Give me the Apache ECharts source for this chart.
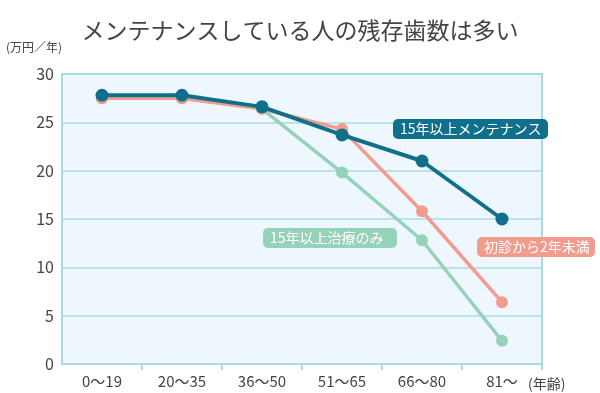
<!DOCTYPE html>
<html><head><meta charset="utf-8">
<script src="https://cdn.jsdelivr.net/npm/echarts@6/dist/echarts.min.js"></script>
<style>html,body{margin:0;padding:0;background:#fff}#c{width:600px;height:393px}</style>
</head><body><div id="c"></div>
<script>
const categories = ['0〜19','20〜35','36〜50','51〜65','66〜80','81〜'];
const maintenance = [27.8, 27.8, 26.6, 23.7, 21.0, 15.0];
const firstVisit = [27.5, 27.5, 26.4, 24.3, 15.8, 6.4];
const treatmentOnly = [27.5, 27.5, 26.4, 19.8, 12.8, 2.4];
const yTicks = [0, 5, 10, 15, 20, 25, 30];
const seriesNames = ['15年以上メンテナンス', '初診から2年未満', '15年以上治療のみ'];

const FONT = '"Noto Sans CJK JP", "Noto Sans", sans-serif';
const chart = echarts.init(document.getElementById('c'));
const lineC = '#a9dbe4';
function box(text, x, y, w, color) {
  return {
    type: 'text', left: x, top: y, z: 100,
    style: {
      text: text, fill: '#fff', font: '14px ' + FONT,
      backgroundColor: color, padding: [3, 7, 3, 7], borderRadius: 5,
      width: w, align: 'center'
    }
  };
}
chart.setOption({
  animation: false,
  textStyle: { fontFamily: FONT },
  title: {
    text: 'メンテナンスしている人の残存歯数は多い', left: 'center', top: 14,
    textStyle: { fontSize: 23, fontWeight: 'normal', color: '#444', fontFamily: FONT }
  },
  grid: {
    left: 62, right: 58, top: 74, bottom: 29, show: true,
    outerBoundsMode: 'none', containLabel: false,
    backgroundColor: '#eef7fd', borderColor: lineC, borderWidth: 2
  },
  xAxis: {
    type: 'category', data: categories, boundaryGap: true,
    axisLine: { lineStyle: { color: lineC, width: 2 } },
    axisTick: { show: true, length: 6, lineStyle: { color: lineC, width: 2 },
      interval: (i) => i !== 0 },
    axisLabel: { color: '#444', fontSize: 15, margin: 10, fontFamily: FONT, interval: 0 },
    name: '(年齢)', nameLocation: 'end', nameGap: -14,
    nameTextStyle: { color: '#444', fontSize: 14, verticalAlign: 'top', padding: [13, 0, 0, 0] }
  },
  yAxis: {
    type: 'value', min: 0, max: 30, interval: 5,
    axisLine: { show: true, lineStyle: { color: lineC, width: 2 } },
    axisTick: { show: false },
    splitLine: { lineStyle: { color: lineC, width: 1.5 } },
    axisLabel: { color: '#444', fontSize: 16, margin: 8, fontFamily: FONT,
      formatter: v => yTicks.includes(v) ? String(v) : '' },
    name: '(万円／年)', nameLocation: 'end', nameGap: 21,
    nameTextStyle: { color: '#444', fontSize: 12, align: 'right' }
  },
  series: [
    { name: seriesNames[2], type: 'line', data: treatmentOnly, z: 2,
      symbol: 'circle', symbolSize: 12,
      itemStyle: { color: '#96d2ba' }, lineStyle: { color: '#96d2ba', width: 3.5 } },
    { name: seriesNames[1], type: 'line', data: firstVisit, z: 3,
      symbol: 'circle', symbolSize: 12,
      itemStyle: { color: '#f29c8e' }, lineStyle: { color: '#f29c8e', width: 3.5 } },
    { name: seriesNames[0], type: 'line', data: maintenance, z: 4,
      symbol: 'circle', symbolSize: 13,
      itemStyle: { color: '#10708c' }, lineStyle: { color: '#10708c', width: 4 } }
  ],
  graphic: [
    box(seriesNames[0], 393, 119, 141, '#10708c'),
    box(seriesNames[2], 263, 228, 120, '#96d2ba'),
    box(seriesNames[1], 477, 237, 104, '#f29c8e')
  ]
});
</script></body></html>
